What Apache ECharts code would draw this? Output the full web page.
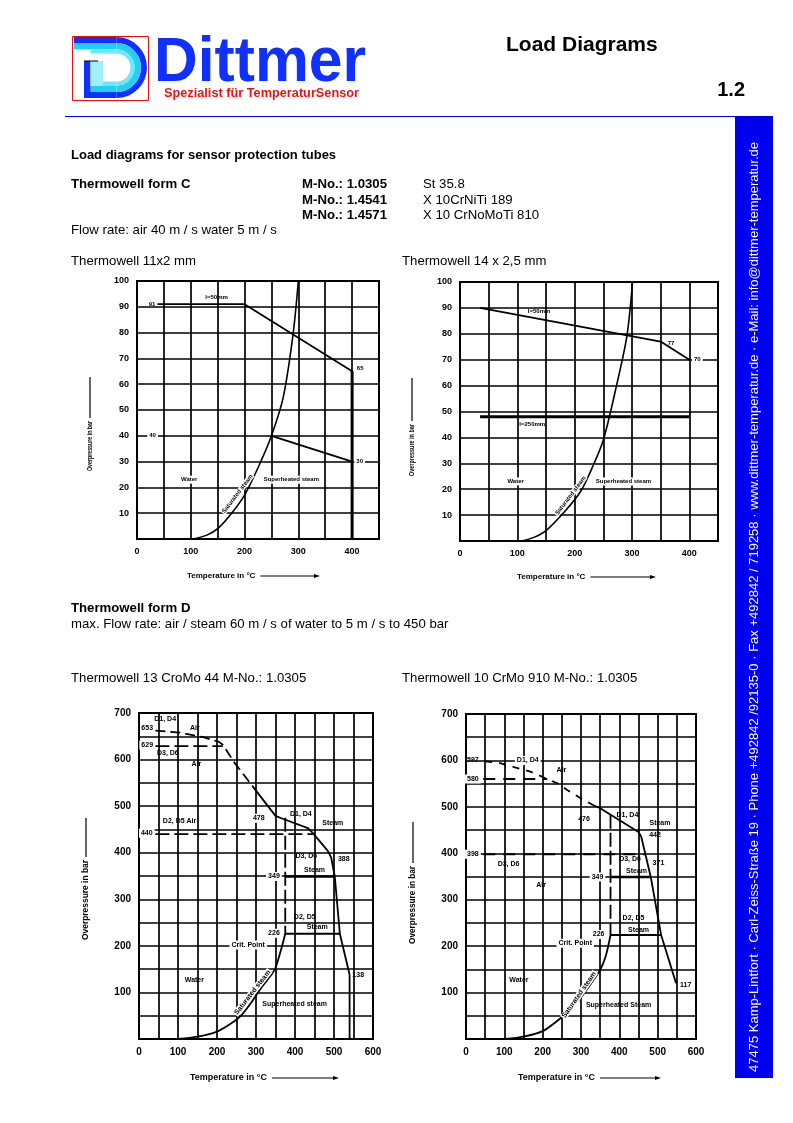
<!DOCTYPE html>
<html><head><meta charset="utf-8">
<script src="https://cdn.jsdelivr.net/npm/echarts@6/dist/echarts.min.js"></script>
<style>html,body{margin:0;padding:0;background:#fff}#c{width:793px;height:1123px}</style>
</head><body><div id="c"></div>
<script>
// ================= DATA =================
// tick labels
const xTicksTop = [0, 100, 200, 300, 400];
const yTicksTop = [10, 20, 30, 40, 50, 60, 70, 80, 90, 100];
const xTicksBottom = [0, 100, 200, 300, 400, 500, 600];
const yTicksBottom = [100, 200, 300, 400, 500, 600, 700];

// Chart 1: Thermowell 11x2 mm  [temperature °C, overpressure bar]
const c1Sat = [[105,0],[130,1.5],[150,4],[176,10],[200,17],[228,29],[250,40],[272,55],[290,79],[300,100]];
const c1LimitShort = [[38,91],[200,91],[400,65]];
const c1LimitDrop = [[400,65],[400,0]];
const c1LimitLong = [[250,40],[400,30]];
const c1Notes = [[148,93.5,'l=50mm'],[28,91,'91'],[29,40,'40',1],[415,66,'65'],[414,30,'30',1],
  [97,23,'Water',1],[287,23,'Superheated steam',1]];
const c1SatNote = [187,17.5,'Saturated steam',53];

// Chart 2: Thermowell 14 x 2,5 mm
const c2Sat = [[108,0],[130,1.5],[150,4],[185,12],[210,19],[230,28],[250,39],[273,60],[291,79],[301,100]];
const c2LimitShort = [[35,90],[350,77],[400,70]];
const c2LimitLong = [[35,48],[400,48]];
const c2Notes = [[138,88.6,'l=50mm'],[126,45.2,'l=250mm'],[368,76.5,'77'],[414,70,'70',1],
  [97,23,'Water',1],[285,23,'Superheated steam',1]];
const c2SatNote = [193,17.5,'Saturated steam',53];

// Chart 3: Thermowell 13 CroMo 44
const c3Sat = [[100,0],[150,5],[200,16],[230,30],[259,48],[285,75],[310,106],[330,128],[348,149],[362,185],[375,226]];
const c3D14Air = [[42,662],[105,658],[165,648],[205,638],[215,632],[245,593],[292,542]];
const c3D14Steam = [[292,542],[350,479],[365,474],[433,453],[446,442],[485,403],[493,389],[502,349],[515,226],[540,138]];
const c3Drop = [[540,138],[540,0]];
const c3D36Air = [[42,629],[215,629]];
const c3D25Air = [[42,440],[446,440]];
const c3Crit = [[375,475],[375,226]];
const c3D36Steam = [[375,349],[502,349]];
const c3D25Steam = [[375,226],[515,226]];
const c3Notes = [[21,667,'653'],[67,687,'D1, D4'],[143,667,'Air'],[21,631,'629',1],[74,615,'D3, D6'],[147,591,'Air'],
  [104,467,'D2, D5 Air'],[20,442,'440',1],[307,474,'478',1],[415,484,'D1, D4'],[497,464,'Steam'],
  [429,392,'D3, D6'],[525,386,'388'],[450,363,'Steam'],[346,349,'349',1],[425,262,'D2, D5'],[457,240,'Steam'],
  [346,227,'226',1],[280,202,'Crit. Point',1],[142,127,'Water'],[399,76,'Superheated steam'],[562,138,'138']];
const c3SatNote = [291,100,'Saturated steam',52];

// Chart 4: Thermowell 10 CrMo 910
const c4Sat = [[102,0],[150,5],[200,17],[241,41],[270,62],[300,90],[325,118],[350,149],[365,180],[377,224]];
const c4D14Air = [[50,598],[89,594],[128,585],[168,576],[212,560],[240,550],[263,537],[298,519],[331,504]];
const c4D14Steam = [[331,504],[350,497],[450,446],[457,436],[482,349],[509,224],[548,120]];
const c4Air580 = [[45,560],[212,560]];
const c4Air398 = [[45,398],[467,398]];
const c4Crit = [[377,483],[377,224]];
const c4D36Steam = [[377,349],[482,349]];
const c4D25Steam = [[377,224],[509,224]];
const c4Notes = [[18,600,'597'],[161,600,'D1, D4',1],[249,580,'Air'],[18,560,'580',1],[308,473,'476'],
  [421,482,'D1, D4'],[506,465,'Steam'],[493,440,'442'],[18,398,'398',1],[111,377,'D3, D6'],[196,332,'Air'],
  [428,387,'D3, D6'],[502,379,'371'],[445,362,'Steam'],[343,349,'349',1],[437,260,'D2, D5'],[450,235,'Steam'],
  [346,225,'226',1],[285,206,'Crit. Point',1],[138,126,'Water'],[398,74,'Superheated Steam'],[573,116,'117']];
const c4SatNote = [295,95,'Saturated steam',55];

// ================= RENDER =================
const FONT = '"Liberation Sans", Arial, Helvetica, sans-serif';
const chart = echarts.init(document.getElementById('c'), null, {renderer:'canvas', width:793, height:1123});
const mctx = document.createElement('canvas').getContext('2d');
function measure(t, f){ mctx.font = f; return mctx.measureText(t).width; }

const grids = [
  {left:137, top:281, width:242, height:258},
  {left:460, top:282, width:258, height:259},
  {left:139, top:713, width:234, height:326},
  {left:466, top:714, width:230, height:325}
];
const gridOpts = grids.map(g => Object.assign({show:true, borderColor:'#000', borderWidth:2, backgroundColor:'#fff', containLabel:false}, g));

function xAx(gi, max, shown, fs){
  return {type:'value', gridIndex:gi, min:0, max, interval:50,
    axisLine:{show:false}, axisTick:{show:false},
    splitLine:{show:true, lineStyle:{color:'#000', width:1.7}},
    axisLabel:{show:true, margin:8, color:'#000', fontSize:fs, fontWeight:'bold', fontFamily:FONT,
      showMinLabel:true, showMaxLabel:true, formatter:v => shown.includes(v) ? String(v) : ''}};
}
function yAx(gi, max, interval, shown, fs){
  return {type:'value', gridIndex:gi, min:0, max, interval,
    axisLine:{show:false}, axisTick:{show:false},
    splitLine:{show:true, lineStyle:{color:'#000', width:1.7}},
    axisLabel:{show:true, margin:8, color:'#000', fontSize:fs, fontWeight:'bold', fontFamily:FONT,
      showMinLabel:true, showMaxLabel:true, formatter:v => shown.includes(v) ? String(v) : ''}};
}
function line(gi, data, w, dash, smooth){
  return {type:'line', xAxisIndex:gi, yAxisIndex:gi, data, symbol:'none', showSymbol:false, silent:true,
    smooth: smooth || false, animation:false, z:3,
    lineStyle:{color:'#000', width:w, type: dash || 'solid', cap:'butt'}};
}
function notes(gi, items, fs, rotItem){
  const all = items.map(it => ({value:[it[0], it[1]], label:{show:true, position:'inside', formatter:it[2],
     fontSize:fs, fontWeight:'bold', fontFamily:FONT, color:'#000', opacity:1,
     backgroundColor: it[3] ? '#fff' : 'transparent', padding: it[3] ? [1,2] : 0}}));
  all.push({value:[rotItem[0], rotItem[1]], label:{show:true, position:'inside', formatter:rotItem[2],
     rotate:rotItem[3], fontSize:fs, fontWeight:'bold', fontFamily:FONT, color:'#000', opacity:1,
     backgroundColor:'#fff', padding:[0,1]}});
  return {type:'scatter', xAxisIndex:gi, yAxisIndex:gi, symbolSize:2, silent:true, animation:false, z:6,
    itemStyle:{color:'rgba(0,0,0,0)'}, data: all};
}

const series = [
  line(0, c1Sat, 1.6, null, 0.3), line(0, c1LimitShort, 1.8), line(0, c1LimitDrop, 3), line(0, c1LimitLong, 1.8),
  notes(0, c1Notes, 6, c1SatNote),
  line(1, c2Sat, 1.6, null, 0.3), line(1, c2LimitShort, 1.8), line(1, c2LimitLong, 3),
  notes(1, c2Notes, 6, c2SatNote),
  line(2, c3Sat, 1.8, null, 0.3), line(2, c3D14Air, 1.8, [10,5]), line(2, c3D14Steam, 1.8), line(2, c3Drop, 1.8),
  line(2, c3D36Air, 1.8, [14,5]), line(2, c3D25Air, 1.8, [14,5]), line(2, c3Crit, 1.8, [14,4]),
  line(2, c3D36Steam, 2.5), line(2, c3D25Steam, 1.8),
  notes(2, c3Notes, 7, c3SatNote),
  line(3, c4Sat, 1.8, null, 0.3), line(3, c4D14Air, 1.8, [7,7]), line(3, c4D14Steam, 1.8),
  line(3, c4Air580, 1.8, [12,8]), line(3, c4Air398, 2, [12,8]), line(3, c4Crit, 1.8, [14,4]),
  line(3, c4D36Steam, 2.5), line(3, c4D25Steam, 1.8),
  notes(3, c4Notes, 7, c4SatNote)
];

// ---------- page graphics ----------
const G = [];
function txt(x, y, text, o){
  o = o || {};
  const f = (o.bold ? 'bold ' : '') + (o.size || 12) + 'px ' + FONT;
  G.push({type:'text', x, y, rotation:o.rot || 0, scaleX:o.sx || 1, scaleY:o.sy || 1, z:10, silent:true,
    style:{text, fill:o.color || '#000', font:f, textAlign:o.align || 'left', textVerticalAlign:o.va || 'middle',
      align:o.align || 'left', verticalAlign:o.va || 'middle'}});
}
function seg(x1, y1, x2, y2, w, c){
  G.push({type:'line', z:10, silent:true, shape:{x1, y1, x2, y2}, style:{stroke:c || '#000', lineWidth:w || 1}});
}
function rect(x, y, w, h, fill, stroke){
  G.push({type:'rect', z:10, silent:true, shape:{x, y, width:w, height:h},
    style:{fill:fill || 'none', stroke:stroke || 'none', lineWidth:1}});
}
function ring(cx, cy, r0, r, fill){
  G.push({type:'sector', z:10, silent:true, shape:{cx, cy, r0, r, startAngle:-Math.PI/2, endAngle:Math.PI/2, clockwise:true},
    style:{fill}});
}
const BLUE = '#1030ff', CYAN = '#22d0f5';
// logo
rect(72.5, 36.5, 76, 64, 'none', '#e81010');
rect(74, 37, 42.5, 6, BLUE); ring(116.5, 67.5, 24.5, 30.5, BLUE); rect(84, 92, 32.5, 6, BLUE);
rect(74, 43, 42.5, 6.5, CYAN); ring(116.5, 67.5, 18, 24.5, CYAN); rect(90.5, 86, 26, 6, CYAN);
ring(116.5, 67.5, 14, 18, '#6fe6ff'); rect(90.5, 49.5, 26, 4, '#6fe6ff'); rect(96, 81.5, 20.5, 4.5, '#6fe6ff');
rect(84, 61, 6.5, 37, BLUE); rect(90.5, 61, 12.5, 25, '#9ff0ff'); seg(84, 61, 98, 61, 1, '#000');
// "Dittmer"
(function(){
  const f = 'bold 60px ' + FONT;
  const w = measure('Dittmer', f);
  txt(154, 64, 'Dittmer', {bold:true, size:60, color:BLUE, sx:212 / w, sy:1.04});
})();
(function(){
  const t = 'Spezialist für TemperaturSensor';
  const w = measure(t, 'bold 12px ' + FONT);
  txt(164, 93.5, t, {bold:true, size:12, color:'#ee1111', sx:195 / w});
})();
txt(506, 45.5, 'Load Diagrams', {bold:true, size:21});
txt(745, 90, '1.2', {bold:true, size:20, align:'right'});
seg(65, 116.5, 736, 116.5, 1.2, '#0000ff');
rect(735, 116, 38, 962, '#0000f0');
(function(){
  const t = '47475 Kamp-Lintfort · Carl-Zeiss-Straße 19 · Phone +492842 /92135-0 · Fax +492842 / 719258 · www.dittmer-temperatur.de · e-Mail: info@dittmer-temperatur.de';
  const w = measure(t, '13px ' + FONT);
  txt(754, 607, t, {size:13, color:'#fff', align:'center', rot:Math.PI/2, sx:930 / w});
})();
// headings
const HB = 13.2, HR = 13.2;
txt(71, 155, 'Load diagrams for sensor protection tubes', {bold:true, size:13});
txt(71, 184, 'Thermowell form C', {bold:true, size:HB});
txt(302, 184, 'M-No.: 1.0305', {bold:true, size:HB});
txt(302, 200, 'M-No.: 1.4541', {bold:true, size:HB});
txt(302, 215, 'M-No.: 1.4571', {bold:true, size:HB});
txt(423, 184, 'St 35.8', {size:HR});
txt(423, 200, 'X 10CrNiTi 189', {size:HR});
txt(423, 215, 'X 10 CrNoMoTi 810', {size:HR});
txt(71, 230, 'Flow rate: air 40 m / s water 5 m / s', {size:HR});
txt(71, 261, 'Thermowell 11x2 mm', {size:HR});
txt(402, 261, 'Thermowell 14 x 2,5 mm', {size:HR});
txt(71, 608, 'Thermowell form D', {bold:true, size:HB});
txt(71, 624, 'max. Flow rate: air / steam 60 m / s of water to 5 m / s to 450 bar', {size:HR});
txt(71, 678, 'Thermowell 13 CroMo 44 M-No.: 1.0305', {size:HR});
txt(402, 678, 'Thermowell 10 CrMo 910 M-No.: 1.0305', {size:HR});
// axis names
function yName(x, yc, yTop, size, len){
  const w = measure('Overpressure in bar', 'bold ' + size + 'px ' + FONT);
  const s = len / w;
  txt(x, yc, 'Overpressure in bar', {bold:true, size, align:'center', rot:Math.PI/2, sx:s});
  seg(x, yc - len / 2 - 3, x, yTop, 1.2);
}
function xName(xl, y, xEnd, size){
  txt(xl, y, 'Temperature in °C', {bold:true, size});
  const w = measure('Temperature in °C', 'bold ' + size + 'px ' + FONT);
  seg(xl + w + 5, y, xEnd, y, 1.2);
  G.push({type:'polygon', z:10, silent:true, shape:{points:[[xEnd + 4, y], [xEnd - 2, y - 2], [xEnd - 2, y + 2]]}, style:{fill:'#000'}});
}
yName(90, 446, 377, 6.5, 50);
yName(412, 450, 378, 6.5, 52);
yName(86, 900, 818, 8.5, 80);
yName(413, 905, 822, 8.5, 78);
xName(187, 576, 316, 8);
xName(517, 577, 652, 8);
xName(190, 1078, 335, 9);
xName(518, 1078, 657, 9);

chart.setOption({
  animation:false,
  backgroundColor:'#fff',
  grid: gridOpts,
  xAxis: [xAx(0, 450, xTicksTop, 9), xAx(1, 450, xTicksTop, 9), xAx(2, 600, xTicksBottom, 10), xAx(3, 600, xTicksBottom, 10)],
  yAxis: [yAx(0, 100, 10, yTicksTop, 9), yAx(1, 100, 10, yTicksTop, 9), yAx(2, 700, 50, yTicksBottom, 10), yAx(3, 700, 50, yTicksBottom, 10)],
  series,
  graphic: {elements: G}
});
</script>
</body></html>
